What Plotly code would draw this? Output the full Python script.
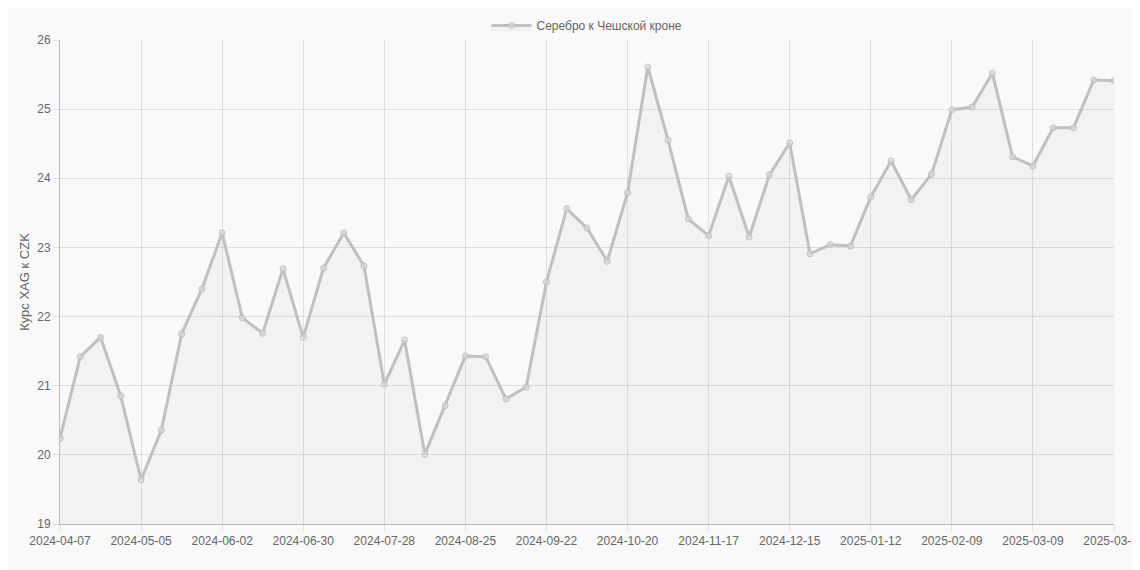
import plotly.graph_objects as go
import datetime as dt

start = dt.date(2024, 4, 7)
dates = [(start + dt.timedelta(weeks=i)).isoformat() for i in range(53)]
values = [20.24, 21.42, 21.70, 20.85, 19.64, 20.36, 21.75, 22.40, 23.21, 21.98,
          21.76, 22.69, 21.70, 22.70, 23.21, 22.73, 21.02, 21.66, 20.01, 20.71,
          21.43, 21.42, 20.81, 20.98, 22.50, 23.56, 23.28, 22.80, 23.79, 25.61,
          24.55, 23.41, 23.17, 24.03, 23.15, 24.05, 24.51, 22.91, 23.04, 23.02,
          23.73, 24.25, 23.69, 24.06, 24.99, 25.03, 25.52, 24.31, 24.18, 24.73,
          24.73, 25.42, 25.41]
tick_pos = list(range(0, 49, 4)) + [52]
tick_labels = [dates[i] for i in range(0, 49, 4)] + ["2025-03-31"]
series_name = "Серебро к Чешской кроне"
y_title = "Курс XAG к CZK"

x = list(range(len(values)))
fig = go.Figure()
fig.add_trace(go.Scatter(
    x=x, y=values, mode="lines+markers", name=series_name,
    customdata=dates, hovertemplate="%{customdata}: %{y}<extra></extra>",
    line=dict(color="rgb(192,192,192)", width=3),
    marker=dict(size=6, color="rgba(220,220,220,0.6)", line=dict(color="rgb(192,192,192)", width=1)),
    fill="tozeroy", fillcolor="rgba(200,200,200,0.15)",
))
fig.update_layout(
    width=1140, height=570,
    margin=dict(l=52, r=34, t=32, b=54, autoexpand=False),
    paper_bgcolor="#f9f9f9", plot_bgcolor="#f9f9f9",
    font=dict(family="Liberation Sans, Arial, sans-serif", size=12, color="#666"),
    showlegend=True,
    legend=dict(orientation="h", x=0.5, xanchor="center", y=1.0, yanchor="bottom",
                font=dict(size=12, color="#666"), itemwidth=40),
    xaxis=dict(range=[0, 52], tickvals=tick_pos, ticktext=tick_labels, tickangle=0,
               showgrid=True, gridcolor="rgba(0,0,0,0.1)", zeroline=False, automargin=False,
               showline=True, linecolor="rgba(0,0,0,0.25)", ticks="outside", ticklen=6,
               tickcolor="rgba(0,0,0,0.1)"),
    yaxis=dict(range=[19, 26], dtick=1, showgrid=True, gridcolor="rgba(0,0,0,0.1)",
               zeroline=False, showline=True, linecolor="rgba(0,0,0,0.25)", automargin=False,
               ticks="outside", ticklen=6, tickcolor="rgba(0,0,0,0.1)",
               title=dict(text=y_title, font=dict(size=13, color="#666"), standoff=4)),
)
fig.write_html("out.html")
